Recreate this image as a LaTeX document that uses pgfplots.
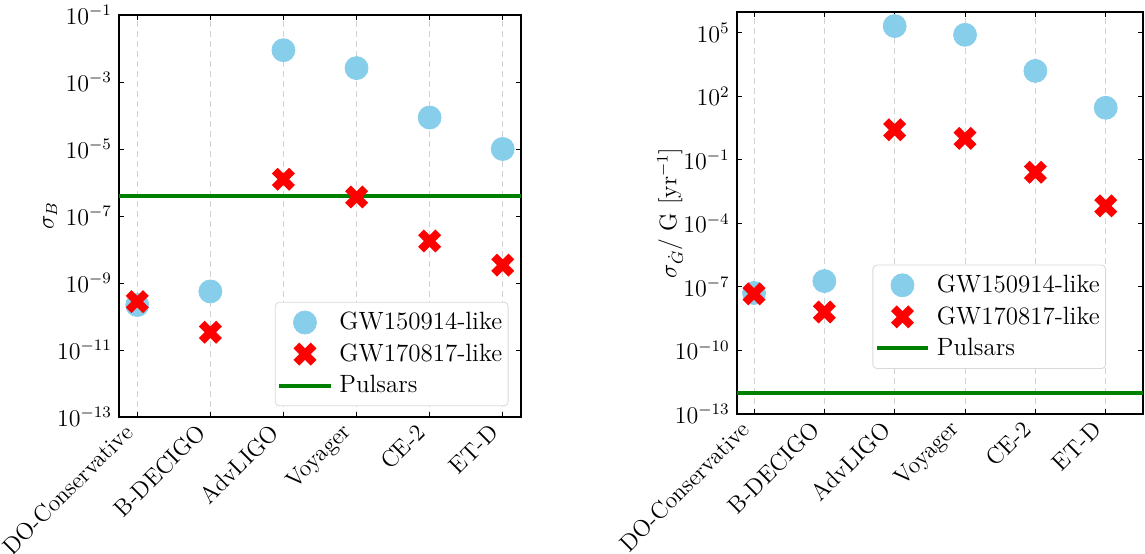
\documentclass[border=0pt]{standalone}
\usepackage{pgfplots}
\pgfplotsset{compat=1.18}

\definecolor{skyblue}{RGB}{135,206,235}
\definecolor{pulsargreen}{RGB}{0,128,0}

% filled "X" marker like matplotlib's 'X'
\pgfdeclareplotmark{fatx}{%
  \pgfpathmoveto{\pgfpoint{-0.5\pgfplotmarksize}{-1\pgfplotmarksize}}%
  \pgfpathlineto{\pgfpoint{0pt}{-0.5\pgfplotmarksize}}%
  \pgfpathlineto{\pgfpoint{0.5\pgfplotmarksize}{-1\pgfplotmarksize}}%
  \pgfpathlineto{\pgfpoint{1\pgfplotmarksize}{-0.5\pgfplotmarksize}}%
  \pgfpathlineto{\pgfpoint{0.5\pgfplotmarksize}{0pt}}%
  \pgfpathlineto{\pgfpoint{1\pgfplotmarksize}{0.5\pgfplotmarksize}}%
  \pgfpathlineto{\pgfpoint{0.5\pgfplotmarksize}{1\pgfplotmarksize}}%
  \pgfpathlineto{\pgfpoint{0pt}{0.5\pgfplotmarksize}}%
  \pgfpathlineto{\pgfpoint{-0.5\pgfplotmarksize}{1\pgfplotmarksize}}%
  \pgfpathlineto{\pgfpoint{-1\pgfplotmarksize}{0.5\pgfplotmarksize}}%
  \pgfpathlineto{\pgfpoint{-0.5\pgfplotmarksize}{0pt}}%
  \pgfpathlineto{\pgfpoint{-1\pgfplotmarksize}{-0.5\pgfplotmarksize}}%
  \pgfpathclose
  \pgfusepathqfill}

% sigma_B
\pgfplotstableread{
x gw150914 gw170817
0 2.2e-10 2.8e-10
1 5.6e-10 3.4e-11
2 8.9e-3  1.25e-6
3 2.6e-3  3.7e-7
4 8.7e-5  1.8e-8
5 1.0e-5  3.4e-9
}\sigmaB

% sigma_Gdot / G
\pgfplotstableread{
x gw150914 gw170817
0 5.2e-8 4.7e-8
1 1.9e-7 6.6e-9
2 2.1e5  2.66
3 8.1e4  1.04
4 1.6e3  0.026
5 29     6.8e-4
}\sigmaG

\pgfplotsset{
  legend image code/.code={\draw[mark repeat=2,mark phase=2,#1] plot coordinates {(0cm,0cm) (0.45cm,0cm) (0.9cm,0cm)}; \path (0.95cm,0cm);},
}
\pgfplotsset{
  detplot/.style={
    scale only axis,
    xtick={0,1,2,3,4,5},
    xticklabels={DO-Conservative,B-DECIGO,AdvLIGO,Voyager,CE-2,ET-D},
    xticklabel style={xshift=-3.5pt, yshift=-5pt, rotate=45, anchor=east, inner sep=1pt, font=\fontsize{11.8}{14}\selectfont},
    yticklabel style={font=\fontsize{11.5}{14}\selectfont},
    xmajorgrids,
    major grid style={densely dashed, gray!35, line width=0.4pt},
    tick align=inside,
    major tick length=2.5pt,
    minor tick length=0pt,
    axis line style={line width=0.9pt},
    tick style={black, line width=0.5pt},
    label style={font=\fontsize{12}{14}\selectfont},
    legend cell align=left,
    legend style={font=\fontsize{12.5}{15}\selectfont, draw=gray!30, rounded corners=2pt,
      fill=white, inner xsep=1pt, inner ysep=3pt, row sep=1.5pt},
  },
}

\begin{document}
\begin{tikzpicture}
\useasboundingbox (0pt,0pt) rectangle (572.5pt,276.5pt);

\begin{semilogyaxis}[detplot,
  at={(59.5pt,68pt)}, anchor=south west,
  width=201pt, height=201pt,
  xmin=-0.25, xmax=5.25,
  ymin=1e-13, ymax=1e-1,
  ytick={1e-13,1e-11,1e-9,1e-7,1e-5,1e-3,1e-1},
  ylabel={$\sigma_B$},
  ylabel style={at={(axis description cs:-0.171,0.5)}, anchor=center},
  legend style={at={(0.969,0.027)}, anchor=south east},
]
\addplot[pulsargreen, line width=2pt, forget plot] coordinates {(-0.25,4e-7) (5.25,4e-7)};
\addplot[only marks, mark=*, mark size=5.75pt, skyblue, mark options={draw=none, fill=skyblue}] table[x=x, y=gw150914] {\sigmaB};
\addplot[only marks, mark=fatx, mark size=5.75pt, red, mark options={fill=red}] table[x=x, y=gw170817] {\sigmaB};
\addlegendimage{pulsargreen, line width=2pt}
\legend{GW150914-like, GW170817-like, Pulsars}
\end{semilogyaxis}

\begin{semilogyaxis}[detplot,
  at={(368.35pt,69.5pt)}, anchor=south west,
  width=203.15pt, height=201.15pt,
  xmin=-0.246, xmax=5.53,
  ymin=1e-13, ymax=1e6,
  ytick={1e-13,1e-10,1e-7,1e-4,1e-1,1e2,1e5},
  ylabel={$\sigma_{\dot G}/$ G [yr$^{-1}$]},
  ylabel style={at={(axis description cs:-0.164,0.5)}, anchor=center},
  legend style={at={(0.909,0.112)}, anchor=south east},
]
\addplot[pulsargreen, line width=2pt, forget plot] coordinates {(-0.246,1e-12) (5.53,1e-12)};
\addplot[only marks, mark=*, mark size=5.75pt, skyblue, mark options={draw=none, fill=skyblue}] table[x=x, y=gw150914] {\sigmaG};
\addplot[only marks, mark=fatx, mark size=5.75pt, red, mark options={fill=red}] table[x=x, y=gw170817] {\sigmaG};
\addlegendimage{pulsargreen, line width=2pt}
\legend{GW150914-like, GW170817-like, Pulsars}
\end{semilogyaxis}
\end{tikzpicture}
\end{document}
